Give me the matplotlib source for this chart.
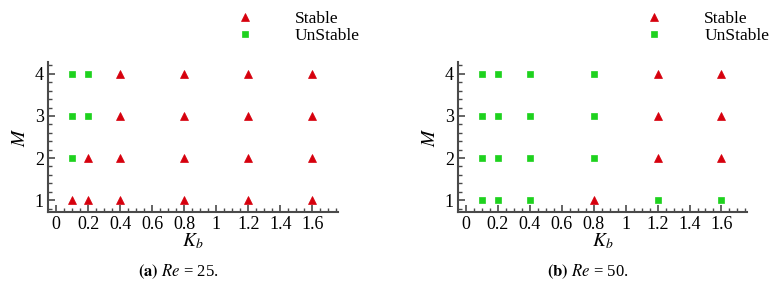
import matplotlib
matplotlib.use("Agg")
import matplotlib.pyplot as plt
import numpy as np

plt.rcParams['font.family'] = ['Liberation Serif', 'DejaVu Serif']
plt.rcParams['mathtext.fontset'] = 'stix'

kb = [0.1, 0.2, 0.4, 0.8, 1.2, 1.6]
m_vals = [1, 2, 3, 4]

# S = stable, U = unstable; rows follow m_vals, columns follow kb
status_re25 = [
    "SSSSSS",
    "USSSSS",
    "UUSSSS",
    "UUSSSS",
]
status_re50 = [
    "UUUSUU",
    "UUUUSS",
    "UUUUSS",
    "UUUUSS",
]
captions = [r"$\mathbf{(a)}$ $Re$ = 25.", r"$\mathbf{(b)}$ $Re$ = 50."]

red = '#d6000d'
green = '#1ed21e'
spine_col = '#4a4a4a'

fig = plt.figure(figsize=(7.79, 2.87), dpi=100)
W, H = 779, 287

def px_axes(x0, x1, ytop, ybot):
    return [x0 / W, 1 - ybot / H, (x1 - x0) / W, (ybot - ytop) / H]

boxes = [px_axes(48, 338, 62, 212), px_axes(458, 747, 62, 212)]
cap_x = [178, 588]

for box, status, cap, cx in zip(boxes, [status_re25, status_re50], captions, cap_x):
    ax = fig.add_axes(box)
    sx, sy, ux, uy = [], [], [], []
    for i, m in enumerate(m_vals):
        for j, k in enumerate(kb):
            if status[i][j] == 'S':
                sx.append(k); sy.append(m)
            else:
                ux.append(k); uy.append(m)
    ax.plot(sx, sy, linestyle='none', marker='^', ms=5.6, color=red,
            mec=red, mew=0.5, label='Stable')
    ax.plot(ux, uy, linestyle='none', marker='s', ms=4.8, color=green,
            mec=green, mew=0.5, label='UnStable')

    ax.set_xlim(-0.05, 1.76)
    ax.set_ylim(0.72, 4.28)
    ax.set_xticks(np.arange(0, 1.61, 0.2))
    ax.set_xticklabels(['0', '0.2', '0.4', '0.6', '0.8', '1', '1.2', '1.4', '1.6'])
    ax.set_xticks(np.arange(0, 1.76, 0.05), minor=True)
    ax.set_yticks([1, 2, 3, 4])
    ax.set_yticks(np.arange(0.8, 4.25, 0.2), minor=True)

    for s in ['top', 'right']:
        ax.spines[s].set_visible(False)
    for s in ['left', 'bottom']:
        ax.spines[s].set_color(spine_col)
        ax.spines[s].set_linewidth(1.5)
    ax.tick_params(which='both', direction='in', color=spine_col, labelsize=13, pad=3)
    ax.tick_params(which='major', length=5, width=1.2)
    ax.tick_params(which='minor', length=3, width=1.0)

    ax.set_xlabel(r'$K_b$', fontsize=14, labelpad=-1)
    ax.set_ylabel(r'$M$', fontsize=14, labelpad=4)

    ax.legend(loc='upper left', bbox_to_anchor=(0.648, 1.34), frameon=False,
              fontsize=12.5, handlelength=1, handletextpad=2.4, labelspacing=0.05,
              borderpad=0, borderaxespad=0)

    fig.text(cx / W, 1 - 272 / H, cap, ha='center', va='center', fontsize=12)

fig.savefig('out.png', dpi=100)
